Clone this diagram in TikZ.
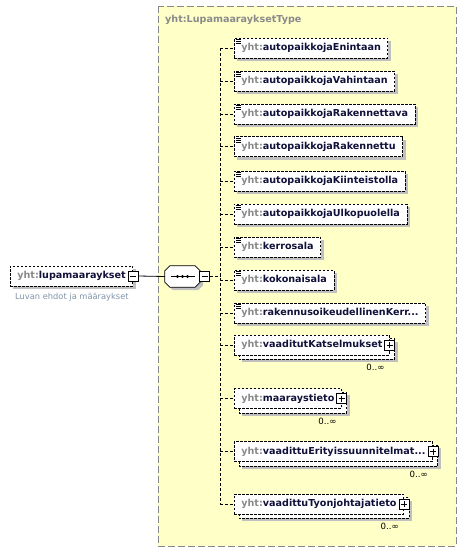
\documentclass[tikz,border=0pt]{standalone}
\usepackage{fontspec}
\setmainfont{DejaVu Sans}
\usetikzlibrary{positioning,shadows}
\pgfdeclarelayer{panel}
\pgfdeclarelayer{behind}
\pgfsetlayers{panel,behind,main}

\definecolor{panelfill}{HTML}{FFFFC8}
\definecolor{panelline}{HTML}{888888}
\definecolor{shadowgray}{HTML}{C0C0C0}
\definecolor{prefixgray}{HTML}{8A8A8A}
\definecolor{namecol}{HTML}{10103A}
\definecolor{descgray}{HTML}{7F93A8}

\newcommand{\yht}[1]{{\color{prefixgray}yht:}#1}
\newcommand{\simpleicon}[1]{%
  \draw[iconline] ([shift={(2,2)}]#1.north west) -- +(5,0)
    ([shift={(2,4)}]#1.north west) -- +(5,0)
    ([shift={(2,6)}]#1.north west) -- +(5,0);}
\newcommand{\backbox}[1]{%
  \begin{pgfonlayer}{behind}
    \fill[shadowgray] ([shift={(8,7)}]#1.north west) rectangle ([shift={(8,7)}]#1.south east);
    \draw[boxline] ([shift={(5,4)}]#1.north west) rectangle ([shift={(5,4)}]#1.south east);
  \end{pgfonlayer}}

\tikzset{
  boxline/.style={draw, fill=white, dash pattern=on 2.5pt off 1.5pt, line width=0.8pt},
  elem/.style={boxline, text=namecol, font=\fontsize{9.6}{11}\selectfont\bfseries,
    inner xsep=7pt, inner ysep=0pt, minimum height=20pt, anchor=west},
  shade/.style={drop shadow={shadow xshift=3pt, shadow yshift=-3pt, draw=none,
    fill=shadowgray, opacity=1}},
  iconline/.style={line width=0.6pt, solid},
  btn/.style={draw, solid, fill=white, line width=0.6pt, minimum size=10pt, inner sep=0pt},
  minusbtn/.style={btn, path picture={\draw[line width=0.6pt]
    ([xshift=2pt]path picture bounding box.west) -- ([xshift=-2pt]path picture bounding box.east);}},
  plusbtn/.style={btn, path picture={\draw[line width=0.6pt]
    ([xshift=2pt]path picture bounding box.west) -- ([xshift=-2pt]path picture bounding box.east)
    ([yshift=-2pt]path picture bounding box.north) -- ([yshift=2pt]path picture bounding box.south);}},
  multi/.style={font=\fontsize{8.6}{10}\selectfont, inner sep=0pt, anchor=north east},
  desc/.style={font=\fontsize{8.3}{10}\selectfont, text=descgray, inner sep=0pt, anchor=north west},
  seqbox/.style={minimum width=35pt, minimum height=21pt, inner sep=0pt},
  seqline/.style={draw, fill=white, line width=0.8pt},
  conn/.style={dash pattern=on 3pt off 2pt, line width=0.8pt},
  panel/.style={fill=panelfill, draw=panelline, dash pattern=on 7pt off 3pt, line width=1pt},
}

\begin{document}
\begin{tikzpicture}[x=1pt, y=-1pt]
  \useasboundingbox (0,0) rectangle (467,552);
  % Typ
  \begin{pgfonlayer}{panel}
    \draw[panel] (158,6) rectangle (456,546);
  \end{pgfonlayer}
  \node[anchor=west, inner sep=0pt, text=prefixgray, font=\fontsize{9.6}{11}\selectfont\bfseries]
    (paneltitle) at (165,19.5) {yht:LupamaarayksetType};
  % Wurzelelement
  \node[elem, shade] (root) at (10,276) {\yht{lupamaaraykset}\hspace{3pt}};
  \node[minusbtn] (rootbtn) at (root.east) {};
  \node[desc] (rootdesc) at ([shift={(5,7)}]root.south west) {Luvan ehdot ja määraykset};
  % Sequenz
  \node[seqbox] (seq) at (182.5,276.5) {};
  \fill[shadowgray] ([shift={(8,3)}]seq.north west) -- ([shift={(-2,3)}]seq.north east)
    -- ([shift={(3,8)}]seq.north east) -- ([shift={(3,-2)}]seq.south east)
    -- ([shift={(-2,3)}]seq.south east) -- ([shift={(8,3)}]seq.south west)
    -- ([shift={(3,-2)}]seq.south west) -- ([shift={(3,8)}]seq.north west) -- cycle;
  \draw[seqline] ([xshift=5pt]seq.north west) -- ([xshift=-5pt]seq.north east)
    -- ([yshift=-5pt]seq.north east) -- ([yshift=5pt]seq.south east)
    -- ([xshift=-5pt]seq.south east) -- ([xshift=5pt]seq.south west)
    -- ([yshift=5pt]seq.south west) -- ([yshift=-5pt]seq.north west) -- cycle;
  \draw[line width=1pt] ([xshift=-12pt]seq.center) -- ([xshift=12pt]seq.center);
  \fill ([xshift=-5pt]seq.center) circle (1.6pt) (seq.center) circle (1.6pt)
    ([xshift=5pt]seq.center) circle (1.6pt);
  \node[minusbtn, anchor=west] (seqbtn) at ([xshift=-1pt]seq.east) {};
  % einfache Elemente
  \node[elem, shade] (e1) at (234,48) {\yht{autopaikkojaEnintaan}};
  \node[elem, shade] (e2) at (234,81) {\yht{autopaikkojaVahintaan}};
  \node[elem, shade] (e3) at (234,114) {\yht{autopaikkojaRakennettava}};
  \node[elem, shade] (e4) at (234,146.5) {\yht{autopaikkojaRakennettu}};
  \node[elem, shade] (e5) at (234,181) {\yht{autopaikkojaKiinteistolla}};
  \node[elem, shade] (e6) at (234,214) {\yht{autopaikkojaUlkopuolella}};
  \node[elem, shade] (e7) at (234,247) {\yht{kerrosala}};
  \node[elem, shade] (e8) at (234,280) {\yht{kokonaisala}};
  \node[elem, shade] (e9) at (234,313) {\yht{rakennusoikeudellinenKerr...}};
  \simpleicon{e1}
  \simpleicon{e2}
  \simpleicon{e3}
  \simpleicon{e4}
  \simpleicon{e5}
  \simpleicon{e6}
  \simpleicon{e7}
  \simpleicon{e8}
  \simpleicon{e9}
  % wiederholte Elemente
  \node[elem] (e10) at (234,345) {\yht{vaaditutKatselmukset}\hspace{3pt}};
  \node[elem] (e11) at (234,398.5) {\yht{maaraystieto}\hspace{3pt}};
  \node[elem] (e12) at (234,451.5) {\yht{vaadittuErityissuunnitelmat...}\hspace{3pt}};
  \node[elem] (e13) at (234,504) {\yht{vaadittuTyonjohtajatieto}\hspace{3pt}};
  \backbox{e10}
  \backbox{e11}
  \backbox{e12}
  \backbox{e13}
  \node[plusbtn] (e10btn) at (e10.east) {};
  \node[plusbtn] (e11btn) at (e11.east) {};
  \node[plusbtn] (e12btn) at (e12.east) {};
  \node[plusbtn] (e13btn) at (e13.east) {};
  \node[multi] (e10m) at ([shift={(-5,9)}]e10.south east) {0..∞};
  \node[multi] (e11m) at ([shift={(-5,9)}]e11.south east) {0..∞};
  \node[multi] (e12m) at ([shift={(-5,9)}]e12.south east) {0..∞};
  \node[multi] (e13m) at ([shift={(-5,9)}]e13.south east) {0..∞};
  % Verbindungen
  \coordinate (trunk) at (220,276);
  \draw[line width=0.8pt] (rootbtn.east) -- (seq.west);
  \draw[conn] (seqbtn.east) -- (seqbtn.east -| trunk);
  \draw[conn] (trunk |- e1.west) -- (trunk |- e13.west);
  \draw[conn] (trunk |- e1.west) -- (e1.west);
  \draw[conn] (trunk |- e2.west) -- (e2.west);
  \draw[conn] (trunk |- e3.west) -- (e3.west);
  \draw[conn] (trunk |- e4.west) -- (e4.west);
  \draw[conn] (trunk |- e5.west) -- (e5.west);
  \draw[conn] (trunk |- e6.west) -- (e6.west);
  \draw[conn] (trunk |- e7.west) -- (e7.west);
  \draw[conn] (trunk |- e8.west) -- (e8.west);
  \draw[conn] (trunk |- e9.west) -- (e9.west);
  \draw[conn] (trunk |- e10.west) -- (e10.west);
  \draw[conn] (trunk |- e11.west) -- (e11.west);
  \draw[conn] (trunk |- e12.west) -- (e12.west);
  \draw[conn] (trunk |- e13.west) -- (e13.west);
\end{tikzpicture}
\end{document}
